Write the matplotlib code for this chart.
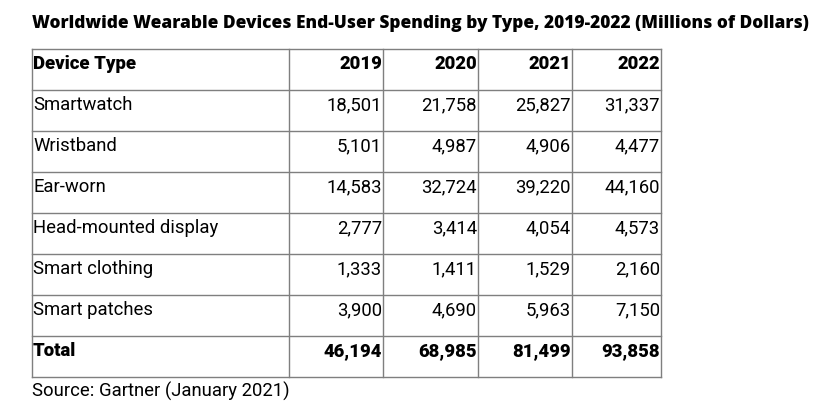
import matplotlib.pyplot as plt

##-----------------------------------------------------------------------------

title  = 'Worldwide Wearable Devices End-User Spending by Type, 2019-2022 (Millions of Dollars)'
source = 'Source: Gartner (January 2021)'

header_label = 'Device Type'
years = ['2019', '2020', '2021', '2022']

devices = ['Smartwatch', 'Wristband', 'Ear-worn', 'Head-mounted display',
           'Smart clothing', 'Smart patches']

spend_2019 = [18501, 5101, 14583, 2777, 1333, 3900]
spend_2020 = [21758, 4987, 32724, 3414, 1411, 4690]
spend_2021 = [25827, 4906, 39220, 4054, 1529, 5963]
spend_2022 = [31337, 4477, 44160, 4573, 2160, 7150]

total_label = 'Total'
totals = [46194, 68985, 81499, 93858]   ## as printed (rounded)

##-----------------------------------------------------------------------------

W, H = 838, 413
fig = plt.figure(figsize=(W/100, H/100), dpi=100)
ax = fig.add_axes([0, 0, 1, 1])
ax.set_xlim(0, W)
ax.set_ylim(H, 0)
ax.axis('off')

body_font = 'Roboto'
fs = 13.3
line_col = '#7f7f7f'

col_edges = [32, 289, 383, 478, 572, 661]
top = 49
row_h = 41
n_rows = len(devices) + 2
row_edges = [top + i*row_h for i in range(n_rows + 1)]

## grid lines
for x in col_edges:
    ax.plot([x, x], [row_edges[0], row_edges[-1]], color=line_col, lw=1.0)
for y in row_edges:
    ax.plot([col_edges[0], col_edges[-1]], [y, y], color=line_col, lw=1.0)

ax.text(32, 28, title, fontsize=12.45, fontweight=800, family='Open Sans',
        ha='left', va='baseline', color='black')

def draw_row(i, label, values, bold=False):
    yb = row_edges[i] + 20
    wt = 900 if bold else 'normal'
    ax.text(col_edges[0] + 1, yb, label, fontsize=fs, fontweight=wt,
            family=body_font, ha='left', va='baseline', color='black')
    for j, v in enumerate(values):
        s = v if isinstance(v, str) else format(v, ',')
        ax.text(col_edges[j + 2] - 1, yb, s, fontsize=fs, fontweight=wt,
                family=body_font, ha='right', va='baseline', color='black')

draw_row(0, header_label, years, bold=True)
series = list(zip(spend_2019, spend_2020, spend_2021, spend_2022))
for i, name in enumerate(devices):
    draw_row(i + 1, name, series[i])
draw_row(n_rows - 1, total_label, totals, bold=True)

ax.text(32, 397, source, fontsize=fs, family=body_font, ha='left',
        va='baseline', color='black')

fig.savefig('out.png', dpi=100)
